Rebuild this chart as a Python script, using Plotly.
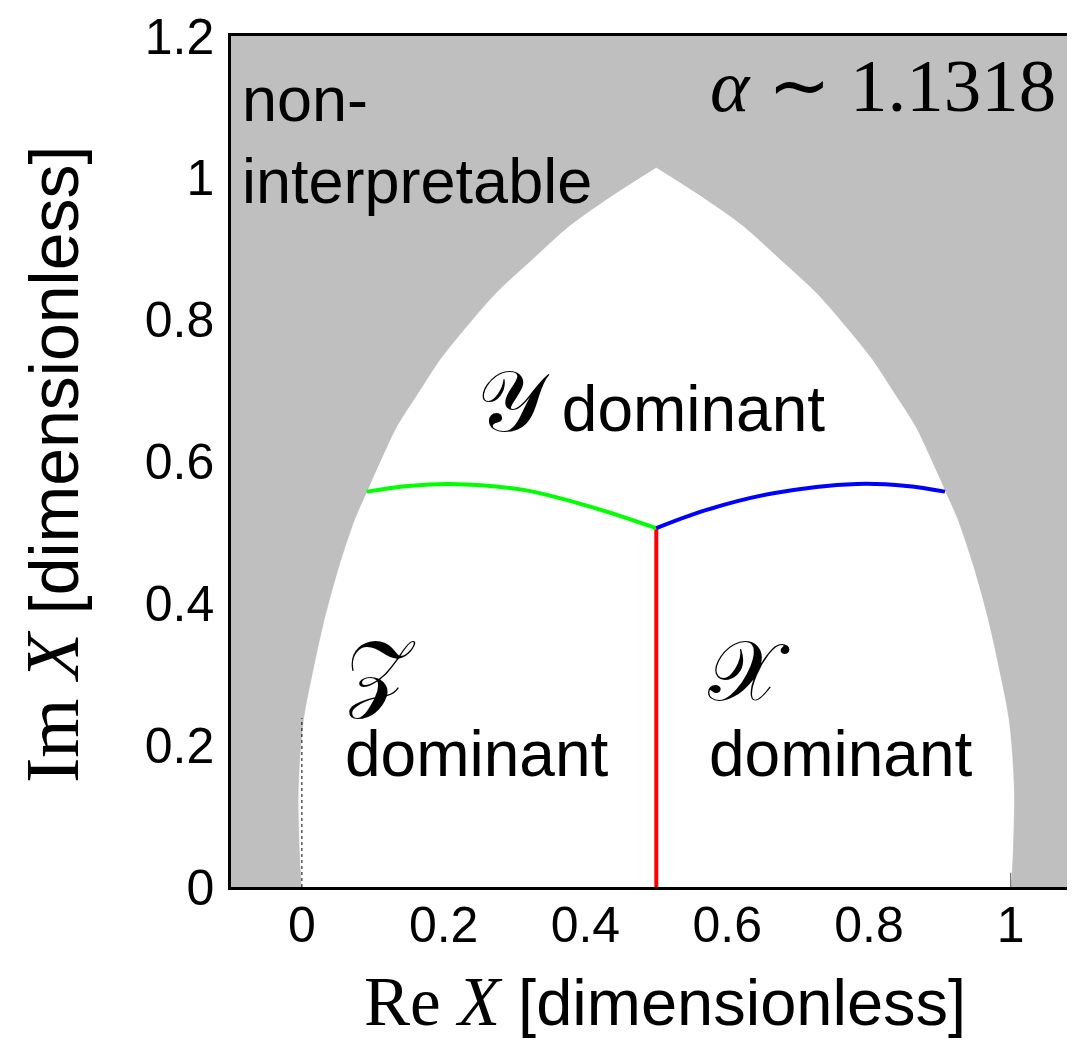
import plotly.graph_objects as go

# ---- data ----
bound_y = [0.0, 0.0522, 0.1410, 0.2355, 0.3061, 0.3766, 0.4471, 0.5176, 0.5575, 0.6023,
           0.6492, 0.6968, 0.7433, 0.7856, 0.8374, 0.8843, 0.9313, 0.9732, 1.0137]
bound_left_x = [0.0, -0.0028, -0.0042, 0.0030, 0.0166, 0.0322, 0.0515, 0.0750, 0.0924, 0.1124,
                0.1347, 0.1650, 0.1953, 0.2292, 0.2743, 0.3251, 0.3773, 0.4365, 0.5]
bound_right_x = [1.0, 1.0028, 1.0042, 0.9970, 0.9834, 0.9678, 0.9485, 0.9250, 0.9076, 0.8876,
                 0.8653, 0.8350, 0.8047, 0.7708, 0.7257, 0.6749, 0.6227, 0.5635, 0.5]

green_x = [0.0913, 0.15, 0.2092, 0.3126, 0.4066, 0.5]
green_y = [0.5575, 0.5655, 0.5684, 0.560, 0.5364, 0.5059]
blue_x = [0.5, 0.5708, 0.6652, 0.7828, 0.8533, 0.9073]
blue_y = [0.5059, 0.5317, 0.5552, 0.5684, 0.5656, 0.5575]
red_x = [0.5, 0.5]
red_y = [0.0, 0.5059]
dot_x = [0.0, 0.0]
dot_y = [0.0, 0.238]
edge_x = [1.0, 1.0]
edge_y = [0.0, 0.02]

tick_vals_x = [0, 0.2, 0.4, 0.6, 0.8, 1]
tick_text_x = ["0", "0.2", "0.4", "0.6", "0.8", "1"]
tick_vals_y = [0, 0.2, 0.4, 0.6, 0.8, 1, 1.2]
tick_text_y = ["0", "0.2", "0.4", "0.6", "0.8", "1", "1.2"]

SANS = "Liberation Sans, Arial, Helvetica, sans-serif"
SERIF = "Liberation Serif, Times New Roman, serif"
GRAY = "#bfbfbf"

# page body has an 8px margin: figure pixel = window pixel - 8
OFF = 8
W, H = 1075 - OFF, 1042 - OFF
L, R, T = 231 - OFF, 0, 36 - OFF
B = H - (887 - OFF)
pw, ph = W - L - R, H - T - B


def px_x(p):
    return (p - 301.7) / 709


def px_y(p):
    return (887 - p) / 709


def paper_x(p):
    return (p - OFF - L) / pw


def paper_y(p):
    return (H - B - (p - OFF)) / ph


fig = go.Figure()

# base polygon (straight segments) + two smoothed halves on top
fig.add_trace(go.Scatter(
    x=bound_left_x + bound_right_x[::-1][1:], y=bound_y + bound_y[::-1][1:],
    mode="lines", fill="toself", fillcolor="white",
    line=dict(width=0, color="white"), hoverinfo="skip", showlegend=False))
fig.add_trace(go.Scatter(
    x=bound_left_x, y=bound_y, mode="lines", fill="tozeroy", fillcolor="white",
    line=dict(width=0.5, color="white", shape="spline", smoothing=1.0),
    hoverinfo="skip", showlegend=False))
fig.add_trace(go.Scatter(
    x=bound_right_x, y=bound_y, mode="lines", fill="tozeroy", fillcolor="white",
    line=dict(width=0.5, color="white", shape="spline", smoothing=1.0),
    hoverinfo="skip", showlegend=False))

fig.add_trace(go.Scatter(x=dot_x, y=dot_y, mode="lines",
                         line=dict(color="black", width=1, dash="dot"), showlegend=False))
fig.add_trace(go.Scatter(x=edge_x, y=edge_y, mode="lines",
                         line=dict(color="#555555", width=1), showlegend=False))
fig.add_trace(go.Scatter(x=red_x, y=red_y, mode="lines",
                         line=dict(color="#ff0000", width=4), showlegend=False))
fig.add_trace(go.Scatter(x=green_x, y=green_y, mode="lines", line_shape="spline",
                         line=dict(color="#00ff00", width=4), showlegend=False))
fig.add_trace(go.Scatter(x=blue_x, y=blue_y, mode="lines", line_shape="spline",
                         line=dict(color="#0000ff", width=4), showlegend=False))

ann = []
ann.append(dict(x=px_x(240), y=px_y(140), xref="x", yref="y", xanchor="left", yanchor="middle",
                text="non-<br>interpretable", align="left", showarrow=False,
                font=dict(family=SANS, size=63, color="black")))
ann.append(dict(x=px_x(1058), y=px_y(86), xref="x", yref="y", xanchor="right", yanchor="middle",
                text="<i>α</i> ∼ 1.1318", showarrow=False,
                font=dict(family=SERIF, size=75, color="black")))
ann.append(dict(x=px_x(651), y=px_y(402), xref="x", yref="y", xanchor="center", yanchor="middle",
                text='<span style="font-family:Liberation Serif;font-size:86px">𝒴</span> dominant',
                showarrow=False, font=dict(family=SANS, size=64, color="black")))
ann.append(dict(x=px_x(344), y=px_y(672), xref="x", yref="y",
                xanchor="left", yanchor="middle", text="𝒵", showarrow=False,
                font=dict(family=SERIF, size=86, color="black")))
ann.append(dict(x=px_x(343), y=px_y(754), xref="x", yref="y",
                xanchor="left", yanchor="middle", text="dominant", showarrow=False,
                font=dict(family=SANS, size=64, color="black")))
ann.append(dict(x=px_x(706), y=px_y(672), xref="x", yref="y",
                xanchor="left", yanchor="middle", text="𝒳", showarrow=False,
                font=dict(family=SERIF, size=84, color="black")))
ann.append(dict(x=px_x(707), y=px_y(754), xref="x", yref="y",
                xanchor="left", yanchor="middle", text="dominant", showarrow=False,
                font=dict(family=SANS, size=64, color="black")))
# axis titles
ann.append(dict(x=paper_x(665), y=paper_y(1002), xref="paper", yref="paper",
                xanchor="center", yanchor="middle", showarrow=False,
                text='<span style="font-family:Liberation Serif;font-size:69px">Re <i>X</i></span> [dimensionless]',
                font=dict(family=SANS, size=65, color="black")))
ann.append(dict(x=paper_x(52), y=paper_y(465), xref="paper", yref="paper",
                xanchor="center", yanchor="middle", textangle=-90, showarrow=False,
                text='<span style="font-family:Liberation Serif;font-size:76px">Im <i>X</i></span> [dimensionless]',
                font=dict(family=SANS, size=68, color="black")))

fig.update_layout(annotations=ann)

fig.update_xaxes(range=[-0.1, 1.0907], tickvals=tick_vals_x, ticktext=tick_text_x,
                 ticks="", showline=True, linecolor="black", linewidth=2.5, mirror=True,
                 showgrid=False, zeroline=False, ticklabelstandoff=-8, automargin=False,
                 tickfont=dict(family=SANS, size=50, color="black"))
fig.update_yaxes(range=[0, 1.2], tickvals=tick_vals_y, ticktext=tick_text_y,
                 ticks="", showline=True, linecolor="black", linewidth=2.5, mirror=False,
                 showgrid=False, zeroline=False, ticklabelstandoff=4, automargin=False,
                 tickfont=dict(family=SANS, size=50, color="black"))

fig.update_layout(width=W, height=H, margin=dict(l=L, r=R, t=T, b=B, autoexpand=False),
                  plot_bgcolor=GRAY, paper_bgcolor="white", showlegend=False)

fig.write_html("out.html")
